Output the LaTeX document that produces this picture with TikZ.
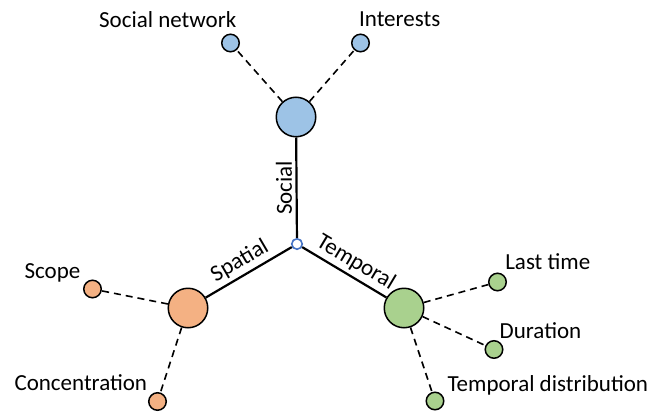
\documentclass[tikz,border=0pt]{standalone}
\usepackage{fontspec}
\setmainfont{Carlito}
\definecolor{socialfill}{HTML}{9DC3E6}
\definecolor{spatialfill}{HTML}{F4B183}
\definecolor{temporalfill}{HTML}{A9D18E}
\definecolor{hubline}{HTML}{4472C4}
\begin{document}
\begin{tikzpicture}[x=1pt,y=-1pt,
  font=\fontsize{23}{27}\selectfont,
  bigdot/.style={circle,draw=black,line width=1.5pt,minimum size=39.5pt,inner sep=0pt},
  smalldot/.style={circle,draw=black,line width=1.5pt,minimum size=17.5pt,inner sep=0pt},
  hub/.style={circle,draw=hubline,fill=white,line width=1.6pt,minimum size=10.5pt,inner sep=0pt},
  axis/.style={line width=2.2pt},
  facet/.style={line width=1.6pt,dash pattern=on 7pt off 5pt},
  caption/.style={anchor=base,inner sep=0pt}
]
\useasboundingbox (0,0) rectangle (655,412);

% hub and the three dimensions
\node[hub] (c) at (297,244) {};
\node[bigdot,fill=socialfill] (so) at (296,117) {};
\node[bigdot,fill=spatialfill] (sp) at (188,308) {};
\node[bigdot,fill=temporalfill] (te) at (404,308) {};

% leaf attributes
\node[smalldot,fill=socialfill] (sn) at (230.5,43) {};
\node[smalldot,fill=socialfill] (in) at (360.5,43) {};
\node[smalldot,fill=spatialfill] (sc) at (92.5,289) {};
\node[smalldot,fill=spatialfill] (co) at (157.5,401.5) {};
\node[smalldot,fill=temporalfill] (lt) at (497.5,282) {};
\node[smalldot,fill=temporalfill] (du) at (494,349.5) {};
\node[smalldot,fill=temporalfill] (td) at (435,401) {};

% axes with their labels
\draw[axis] (c) -- node[rotate=90,anchor=south,pos=0.5] {Social} (so);
\draw[axis] (c) -- node[sloped,above,pos=0.52] {Spatial} (sp);
\draw[axis] (c) -- node[sloped,above,pos=0.55] {Temporal} (te);

% dashed links to attributes
\draw[facet] (so) -- (sn);
\draw[facet] (so) -- (in);
\draw[facet] (sp) -- (sc);
\draw[facet] (sp) -- (co);
\draw[facet] (te) -- (lt);
\draw[facet] (te) -- (du);
\draw[facet] (te) -- (td);

% attribute names
\node[caption] (tsn) at (167.7,28) {Social network};
\node[caption] (tin) at (399.7,27) {Interests};
\node[caption] (tsc) at (52.5,278) {Scope};
\node[caption] (tco) at (80.8,390) {Concentration};
\node[caption] (tlt) at (547.8,269.3) {Last time};
\node[caption] (tdu) at (540.5,338.3) {Duration};
\node[caption] (ttd) at (547.8,391.7) {Temporal distribution};
\end{tikzpicture}
\end{document}
